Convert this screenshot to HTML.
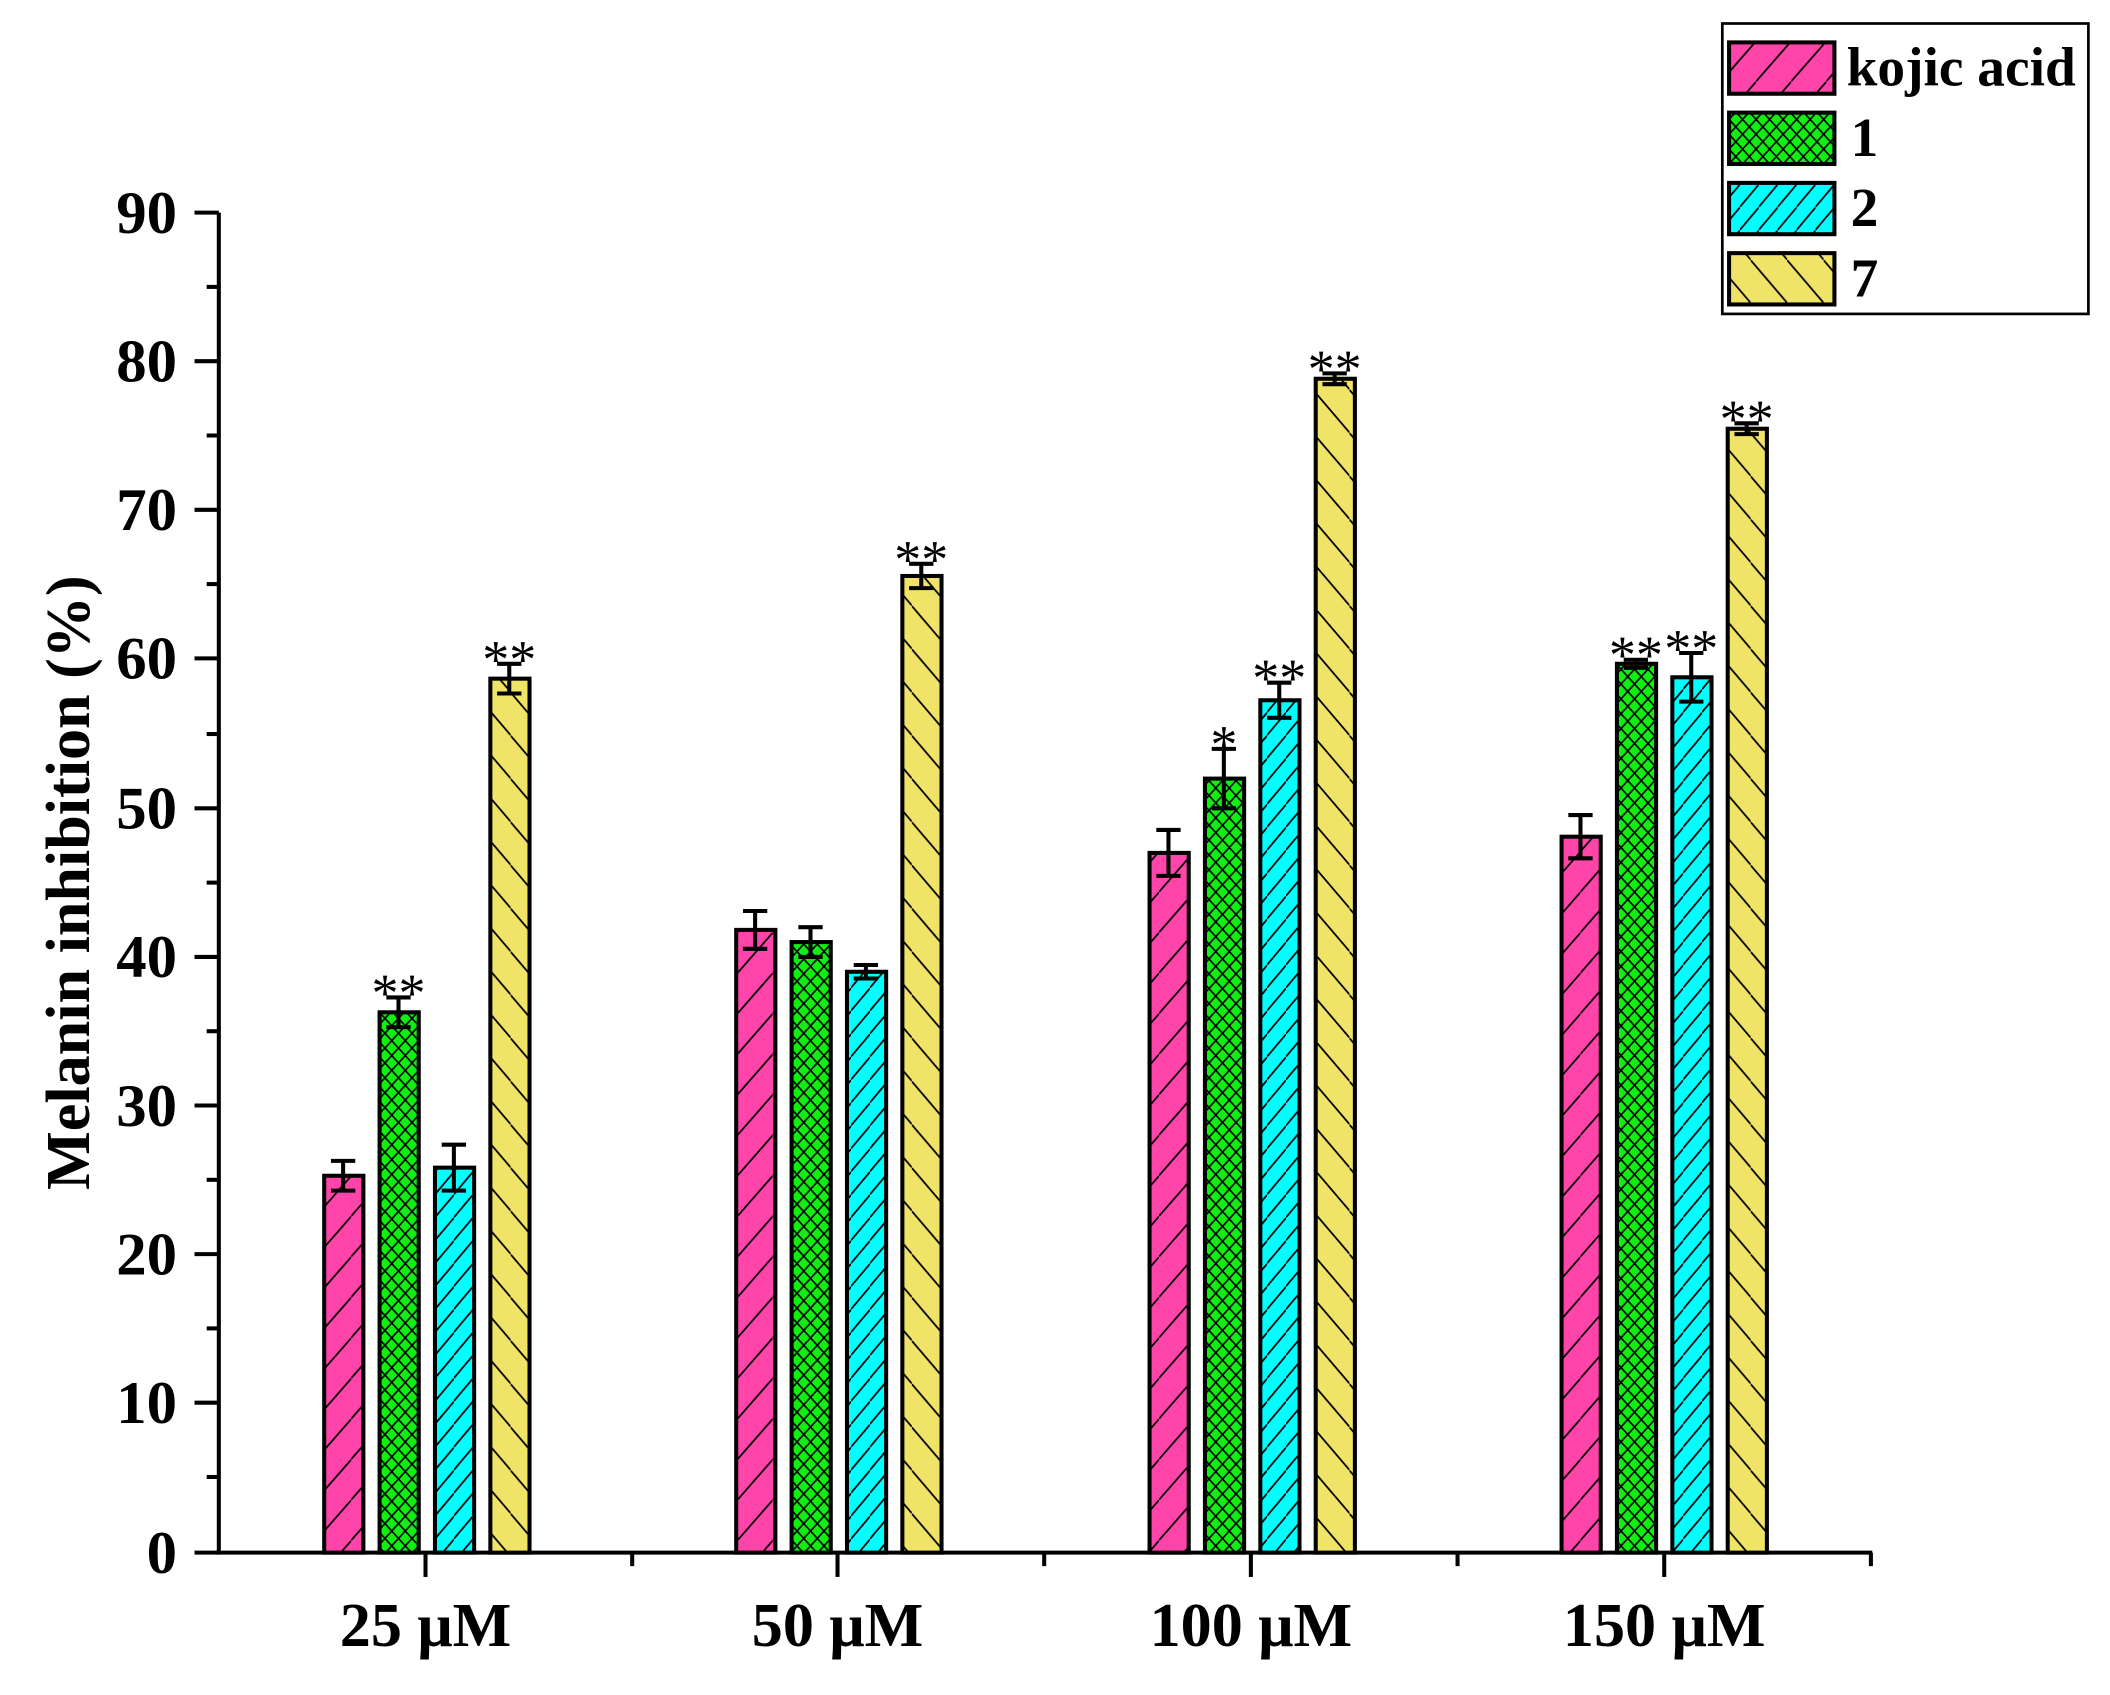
<!DOCTYPE html>
<html><head><meta charset="utf-8"><style>html,body{margin:0;padding:0;background:#fff}svg{display:block}</style></head>
<body>
<svg width="2110" height="1695" viewBox="0 0 1562 1254" xmlns="http://www.w3.org/2000/svg" font-family="Liberation Serif, serif" font-weight="bold">
<defs>
<pattern id="pk" patternUnits="userSpaceOnUse" width="26" height="30"><rect width="26" height="30" fill="#FF44AA"/><path d="M-1,31 L27,-1" stroke="#000" stroke-width="1.3"/></pattern>
<pattern id="cy" patternUnits="userSpaceOnUse" width="14" height="17"><rect width="14" height="17" fill="#00FFFF"/><path d="M-1,18 L15,-1" stroke="#000" stroke-width="1.3"/></pattern>
<pattern id="yl" patternUnits="userSpaceOnUse" width="27" height="32"><rect width="27" height="32" fill="#F0E468"/><path d="M-1,-1 L28,33" stroke="#000" stroke-width="1.3"/></pattern>
<pattern id="gr" patternUnits="userSpaceOnUse" width="10" height="11"><rect width="10" height="11" fill="#11EE11"/><path d="M0,0 L10,11 M10,0 L0,11" stroke="#000" stroke-width="1.2"/></pattern>
</defs>
<g stroke="#000" stroke-width="3" fill="none">
<line x1="162" y1="157" x2="162" y2="1150"/>
<line x1="160" y1="1149" x2="1386" y2="1149"/>
</g>
<g stroke="#000" stroke-width="3">
<line x1="144" y1="157" x2="162" y2="157"/><line x1="144" y1="267" x2="162" y2="267"/><line x1="144" y1="377" x2="162" y2="377"/><line x1="144" y1="487" x2="162" y2="487"/><line x1="144" y1="598" x2="162" y2="598"/><line x1="144" y1="708" x2="162" y2="708"/><line x1="144" y1="818" x2="162" y2="818"/><line x1="144" y1="928" x2="162" y2="928"/><line x1="144" y1="1038" x2="162" y2="1038"/><line x1="144" y1="1149" x2="162" y2="1149"/>
<line x1="153" y1="212" x2="162" y2="212"/><line x1="153" y1="322" x2="162" y2="322"/><line x1="153" y1="432" x2="162" y2="432"/><line x1="153" y1="543" x2="162" y2="543"/><line x1="153" y1="653" x2="162" y2="653"/><line x1="153" y1="763" x2="162" y2="763"/><line x1="153" y1="873" x2="162" y2="873"/><line x1="153" y1="983" x2="162" y2="983"/><line x1="153" y1="1093" x2="162" y2="1093"/>
<line x1="315" y1="1149" x2="315" y2="1167"/><line x1="620" y1="1149" x2="620" y2="1167"/><line x1="926" y1="1149" x2="926" y2="1167"/><line x1="1232" y1="1149" x2="1232" y2="1167"/>
<line x1="468" y1="1149" x2="468" y2="1159"/><line x1="773" y1="1149" x2="773" y2="1159"/><line x1="1079" y1="1149" x2="1079" y2="1159"/><line x1="1385" y1="1149" x2="1385" y2="1159"/>
</g>
<g font-size="45" text-anchor="end" fill="#000">
<text x="131" y="172">90</text><text x="131" y="282">80</text><text x="131" y="392">70</text><text x="131" y="502">60</text><text x="131" y="613">50</text><text x="131" y="723">40</text><text x="131" y="833">30</text><text x="131" y="943">20</text><text x="131" y="1053">10</text><text x="131" y="1164">0</text>
</g>
<g font-size="46" text-anchor="middle" fill="#000">
<text x="315" y="1218">25 μM</text><text x="620" y="1218">50 μM</text><text x="926" y="1218">100 μM</text><text x="1232" y="1218">150 μM</text>
</g>
<text transform="translate(66,653) rotate(-90)" font-size="46" text-anchor="middle" fill="#000">Melanin inhibition (%)</text>
<g stroke="#000" stroke-width="3">
<rect x="240" y="870" width="29" height="279" fill="url(#pk)"/>
<rect x="281" y="749" width="29" height="400" fill="url(#gr)"/>
<rect x="322" y="864" width="29" height="285" fill="url(#cy)"/>
<rect x="363" y="502" width="29" height="647" fill="url(#yl)"/>
<rect x="545" y="688" width="29" height="461" fill="url(#pk)"/>
<rect x="586" y="697" width="29" height="452" fill="url(#gr)"/>
<rect x="627" y="719" width="29" height="430" fill="url(#cy)"/>
<rect x="668" y="426" width="29" height="723" fill="url(#yl)"/>
<rect x="851" y="631" width="29" height="518" fill="url(#pk)"/>
<rect x="892" y="576" width="29" height="573" fill="url(#gr)"/>
<rect x="933" y="518" width="29" height="631" fill="url(#cy)"/>
<rect x="974" y="280" width="29" height="869" fill="url(#yl)"/>
<rect x="1156" y="619" width="29" height="530" fill="url(#pk)"/>
<rect x="1197" y="491" width="29" height="658" fill="url(#gr)"/>
<rect x="1238" y="501" width="29" height="648" fill="url(#cy)"/>
<rect x="1279" y="317" width="29" height="832" fill="url(#yl)"/>
</g>
<g stroke="#000" stroke-width="3" fill="none">
<path d="M254,859V881M245,859H263M245,881H263"/>
<path d="M295,738V760M286,738H304M286,760H304"/>
<path d="M336,847V881M327,847H345M327,881H345"/>
<path d="M377,491V513M368,491H386M368,513H386"/>
<path d="M559,674V702M550,674H568M550,702H568"/>
<path d="M600,686V708M591,686H609M591,708H609"/>
<path d="M641,714V724M632,714H650M632,724H650"/>
<path d="M682,417V435M673,417H691M673,435H691"/>
<path d="M865,614V648M856,614H874M856,648H874"/>
<path d="M906,554V598M897,554H915M897,598H915"/>
<path d="M947,505V531M938,505H956M938,531H956"/>
<path d="M988,276V284M979,276H997M979,284H997"/>
<path d="M1170,603V635M1161,603H1179M1161,635H1179"/>
<path d="M1211,488V494M1202,488H1220M1202,494H1220"/>
<path d="M1252,483V519M1243,483H1261M1243,519H1261"/>
<path d="M1293,313V321M1284,313H1302M1284,321H1302"/>
</g>
<g font-weight="normal" font-size="40" text-anchor="middle" fill="#000">
<text x="295" y="748">**</text>
<text x="377" y="501">**</text>
<text x="682" y="427">**</text>
<text x="906" y="564">*</text>
<text x="947" y="515">**</text>
<text x="988" y="286">**</text>
<text x="1211" y="498">**</text>
<text x="1252" y="493">**</text>
<text x="1293" y="323">**</text>
</g>
<rect x="1275" y="17" width="271" height="215" fill="#fff" stroke="#000" stroke-width="2"/>
<g stroke="#000" stroke-width="3">
<rect x="1280" y="31" width="78" height="38" fill="url(#pk)"/>
<rect x="1280" y="83" width="78" height="38" fill="url(#gr)"/>
<rect x="1280" y="135" width="78" height="38" fill="url(#cy)"/>
<rect x="1280" y="187" width="78" height="38" fill="url(#yl)"/>
</g>
<g font-size="41" fill="#000">
<text x="1367" y="63">kojic acid</text>
<text x="1370" y="115">1</text>
<text x="1370" y="167">2</text>
<text x="1370" y="219">7</text>
</g>
</svg>
</body></html>
